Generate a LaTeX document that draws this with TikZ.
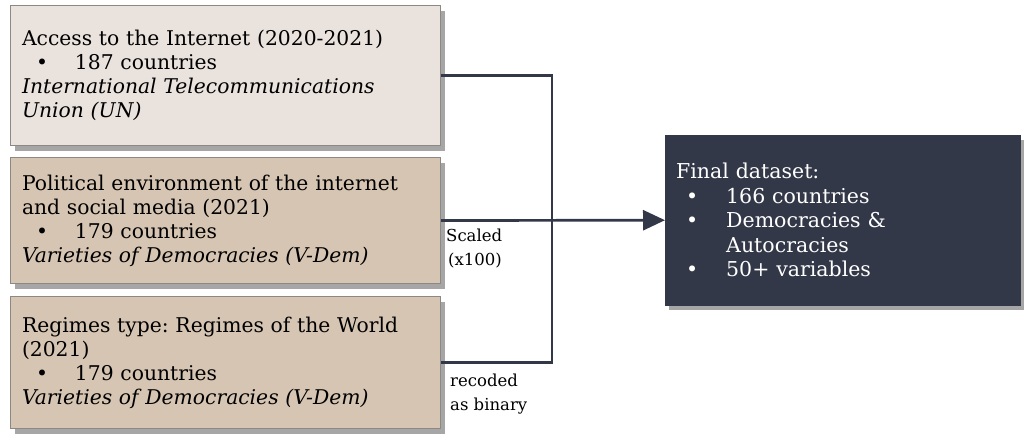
\documentclass[tikz,border=0pt]{standalone}
\usepackage{fontspec}
\setmainfont{DejaVu Serif}
\usepackage{tikz}
\usetikzlibrary{positioning,shadows,arrows.meta}
\frenchspacing

\definecolor{boxlight}{RGB}{234,226,220}
\definecolor{boxtan}{RGB}{214,197,178}
\definecolor{boxedge}{RGB}{140,136,132}
\definecolor{navy}{RGB}{51,56,73}

\newcommand{\bul}{\makebox[53pt][l]{\hspace*{14pt}\textbullet}}
\newcommand{\fbul}{\makebox[50pt][l]{\hspace*{10pt}\textbullet}}

\tikzset{
  srcbox/.style={draw=boxedge, line width=1pt, anchor=north west, align=left,
    minimum width=430pt, text width=407pt, inner xsep=11.5pt,
    font=\fontsize{20.3}{24}\selectfont,
    drop shadow={shadow xshift=4pt, shadow yshift=-5pt, fill=black, opacity=0.35}},
  link/.style={draw=navy, line width=2.7pt},
  note/.style={anchor=north west, align=left, inner sep=0pt,
    font=\fontsize{16.5}{23.5}\selectfont}
}

\begin{document}
\begin{tikzpicture}[x=1pt,y=-1pt]
\useasboundingbox (0,0) rectangle (1030,442);

% Source boxes
\node[srcbox, fill=boxlight, minimum height=140pt] (inet) at (10,5)
  {Access to the Internet (2020-2021)\\
   \bul 187 countries\\
   \textit{International Telecommunications}\\
   \textit{Union (UN)}};
\node[srcbox, fill=boxtan, minimum height=126pt] (polenv) at (10,157)
  {Political environment of the internet\\
   and social media (2021)\\
   \bul 179 countries\\
   \textit{Varieties of Democracies (V-Dem)}};
\node[srcbox, fill=boxtan, minimum height=132pt] (regime) at (10,296)
  {Regimes type: Regimes of the World\\
   (2021)\\
   \bul 179 countries\\
   \textit{Varieties of Democracies (V-Dem)}};

% Final box
\node[draw=navy, fill=navy, text=white, anchor=north west, align=left,
  minimum width=355pt, minimum height=170pt, text width=333pt, inner xsep=11pt,
  font=\fontsize{20.5}{24.5}\selectfont,
  drop shadow={shadow xshift=4pt, shadow yshift=-5pt, fill=black, opacity=0.35}]
  (final) at (665,135)
  {Final dataset:\\
   \fbul 166 countries\\
   \fbul Democracies \&\\
   \hspace*{50pt}Autocracies\\
   \fbul 50+ variables};

% Connectors
\coordinate (join) at (552,220);
\draw[link] (inet.east) -| (join) |- (regime.east);
\draw[link, -{Triangle[length=22pt,width=20pt]}] (polenv.east) -- (final.west);

% Text Node
\node[note] (scaled) at (446,229) {Scaled\\ \hspace*{2pt}(x100)};
% Text Node
\node[note] (recoded) at (450,374) {recoded\\as binary};

\end{tikzpicture}
\end{document}
